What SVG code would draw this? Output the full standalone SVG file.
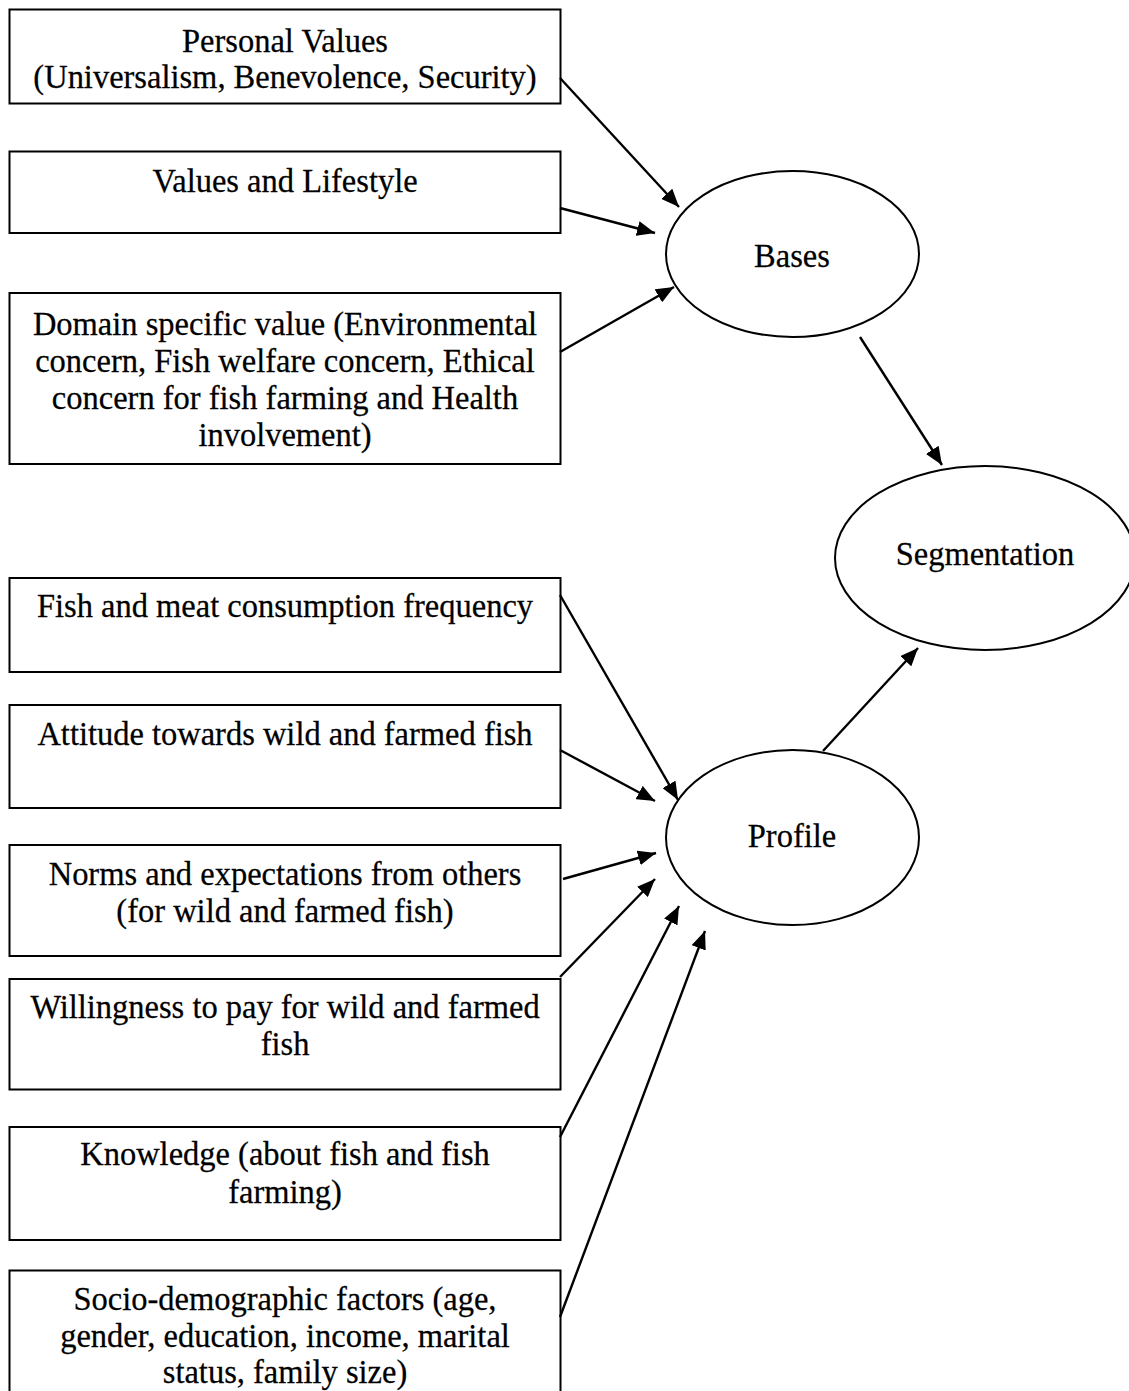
<svg xmlns="http://www.w3.org/2000/svg" width="1129" height="1391" viewBox="0 0 1129 1391">
<style>
.box{fill:#fff;stroke:#000;stroke-width:2}
.ell{fill:#fff;stroke:#000;stroke-width:2}
.t{font-family:"Liberation Serif","Times New Roman",serif;font-size:32.5px;fill:#000;stroke:#000;stroke-width:0.25;text-anchor:middle}
.c{stroke:#000;stroke-width:2.4;fill:none;marker-end:url(#ah)}
</style>
<defs>
<marker id="ah" viewBox="0 0 18 15" refX="18" refY="7.5" markerWidth="18" markerHeight="15" markerUnits="userSpaceOnUse" orient="auto">
<path d="M0,0 L18,7.5 L0,15 z" fill="#000"/>
</marker>
</defs>
<rect width="1129" height="1391" fill="#fff"/>
<g id="n-personal"><rect class="box" x="9.5" y="9.5" width="551" height="94"/><text class="t" transform="translate(285,52) scale(1,1.06)">Personal Values</text><text class="t" transform="translate(285,88) scale(1,1.06)">(Universalism, Benevolence, Security)</text></g>
<g id="n-lifestyle"><rect class="box" x="9.5" y="151.5" width="551" height="81.5"/><text class="t" transform="translate(285,192) scale(1,1.06)">Values and Lifestyle</text></g>
<g id="n-domain"><rect class="box" x="9.5" y="293" width="551" height="171"/><text class="t" transform="translate(285,335) scale(1,1.06)">Domain specific value (Environmental</text><text class="t" transform="translate(285,372) scale(1,1.06)">concern, Fish welfare concern, Ethical</text><text class="t" transform="translate(285,409) scale(1,1.06)">concern for fish farming and Health</text><text class="t" transform="translate(285,446) scale(1,1.06)">involvement)</text></g>
<g id="n-fish"><rect class="box" x="9.5" y="578" width="551" height="94"/><text class="t" transform="translate(285,617) scale(1,1.06)">Fish and meat consumption frequency</text></g>
<g id="n-attitude"><rect class="box" x="9.5" y="705" width="551" height="103"/><text class="t" transform="translate(285,745) scale(1,1.06)">Attitude towards wild and farmed fish</text></g>
<g id="n-norms"><rect class="box" x="9.5" y="845" width="551" height="111"/><text class="t" transform="translate(285,885) scale(1,1.06)">Norms and expectations from others</text><text class="t" transform="translate(285,922) scale(1,1.06)">(for wild and farmed fish)</text></g>
<g id="n-wtp"><rect class="box" x="9.5" y="979" width="551" height="110.5"/><text class="t" transform="translate(285,1018) scale(1,1.06)">Willingness to pay for wild and farmed</text><text class="t" transform="translate(285,1055) scale(1,1.06)">fish</text></g>
<g id="n-knowledge"><rect class="box" x="9.5" y="1127" width="551" height="113"/><text class="t" transform="translate(285,1165) scale(1,1.06)">Knowledge (about fish and fish</text><text class="t" transform="translate(285,1203) scale(1,1.06)">farming)</text></g>
<g id="n-socio"><rect class="box" x="9.5" y="1270.5" width="551" height="130"/><text class="t" transform="translate(285,1310) scale(1,1.06)">Socio-demographic factors (age,</text><text class="t" transform="translate(285,1347) scale(1,1.06)">gender, education, income, marital</text><text class="t" transform="translate(285,1383) scale(1,1.06)">status, family size)</text></g>
<g id="n-bases"><ellipse class="ell" cx="792.5" cy="254" rx="126.5" ry="83"/><text class="t" transform="translate(792,267) scale(1,1.06)">Bases</text></g>
<g id="n-segmentation"><ellipse class="ell" cx="985" cy="558" rx="150" ry="92"/><text class="t" transform="translate(985,565) scale(1,1.06)">Segmentation</text></g>
<g id="n-profile"><ellipse class="ell" cx="792.5" cy="837.5" rx="126.5" ry="87.5"/><text class="t" transform="translate(792,847) scale(1,1.06)">Profile</text></g>
<g id="connectors">
<line class="c" x1="560" y1="78" x2="679" y2="207"/>
<line class="c" x1="560" y1="208" x2="655" y2="233"/>
<line class="c" x1="560" y1="352" x2="674" y2="287"/>
<line class="c" x1="860" y1="337" x2="942" y2="465"/>
<line class="c" x1="560" y1="595" x2="678" y2="800"/>
<line class="c" x1="560" y1="750" x2="655" y2="801"/>
<line class="c" x1="563" y1="879" x2="656" y2="853"/>
<line class="c" x1="560" y1="977" x2="655" y2="879"/>
<line class="c" x1="560" y1="1137" x2="679" y2="906"/>
<line class="c" x1="560" y1="1317" x2="705" y2="931"/>
<line class="c" x1="823" y1="751" x2="918" y2="648"/>
</g>
</svg>
